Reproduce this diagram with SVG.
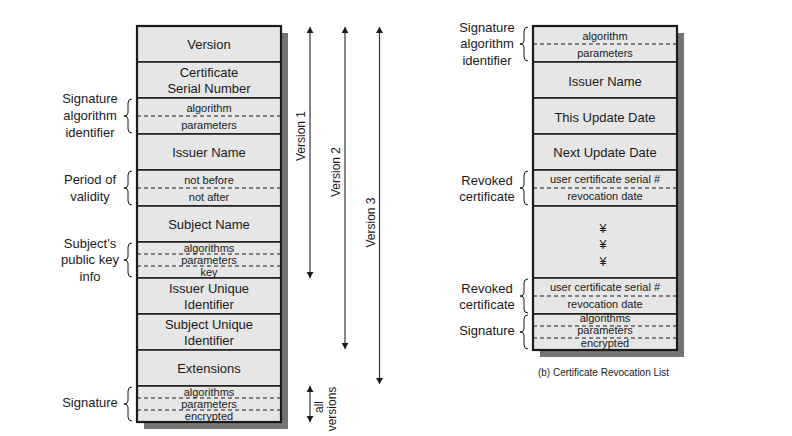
<svg xmlns="http://www.w3.org/2000/svg" width="792" height="436" viewBox="0 0 792 436">
<style>
.row{fill:#e6e6e6;stroke:#1a1a1a;stroke-width:1.5}
.frame{fill:none;stroke:#1a1a1a;stroke-width:2.2}
.shadow{fill:#747474}
.dash{stroke:#1a1a1a;stroke-width:1;stroke-dasharray:4 3}
text{font-family:"Liberation Sans",Arial,sans-serif;fill:#1a1a1a;text-anchor:middle}
.t{font-size:13px}
.s{font-size:11px}
.l{font-size:13px}
.v{font-size:12px}
.c{font-size:10px}
.y{font-size:12.5px}
.brace{fill:none;stroke:#1a1a1a;stroke-width:1}
.arr{stroke:#333;stroke-width:1.2;fill:none;marker-start:url(#ah);marker-end:url(#ah)}
</style>
<defs>
<marker id="ah" viewBox="0 0 6 7" refX="6" refY="3.5" markerWidth="6" markerHeight="7" markerUnits="userSpaceOnUse" orient="auto-start-reverse">
<path d="M0,0 L6,3.5 L0,7 Z" fill="#1a1a1a"/>
</marker>
</defs>
<rect width="792" height="436" fill="#ffffff"/>

<!-- Certificate (left) -->
<rect class="shadow" x="144" y="33" width="144" height="396"/>
<g id="cert-version"><rect class="row" x="137" y="26" width="144" height="36"/><text class="t" x="209" y="49">Version</text></g>
<g id="cert-serial"><rect class="row" x="137" y="62" width="144" height="36"/><text class="t" x="209" y="77">Certificate</text><text class="t" x="209" y="93">Serial Number</text></g>
<g id="cert-sigalg"><rect class="row" x="137" y="98" width="144" height="36"/><line class="dash" x1="137" y1="116" x2="281" y2="116"/><text class="s" x="209" y="111.5">algorithm</text><text class="s" x="209" y="128.5">parameters</text></g>
<g id="cert-issuer"><rect class="row" x="137" y="134" width="144" height="36"/><text class="t" x="209" y="156.5">Issuer Name</text></g>
<g id="cert-validity"><rect class="row" x="137" y="170" width="144" height="36"/><line class="dash" x1="137" y1="188" x2="281" y2="188"/><text class="s" x="209" y="183.5">not before</text><text class="s" x="209" y="201">not after</text></g>
<g id="cert-subject"><rect class="row" x="137" y="206" width="144" height="36"/><text class="t" x="209" y="229">Subject Name</text></g>
<g id="cert-pubkey"><rect class="row" x="137" y="242" width="144" height="36"/><line class="dash" x1="137" y1="254" x2="281" y2="254"/><line class="dash" x1="137" y1="266" x2="281" y2="266"/><text class="s" x="209" y="252">algorithms</text><text class="s" x="209" y="264">parameters</text><text class="s" x="209" y="276">key</text></g>
<g id="cert-issuer-uid"><rect class="row" x="137" y="278" width="144" height="36"/><text class="t" x="209" y="293">Issuer Unique</text><text class="t" x="209" y="309">Identifier</text></g>
<g id="cert-subject-uid"><rect class="row" x="137" y="314" width="144" height="36"/><text class="t" x="209" y="329">Subject Unique</text><text class="t" x="209" y="345">Identifier</text></g>
<g id="cert-extensions"><rect class="row" x="137" y="350" width="144" height="36"/><text class="t" x="209" y="373">Extensions</text></g>
<g id="cert-signature"><rect class="row" x="137" y="386" width="144" height="36"/><line class="dash" x1="137" y1="398" x2="281" y2="398"/><line class="dash" x1="137" y1="410" x2="281" y2="410"/><text class="s" x="209" y="396">algorithms</text><text class="s" x="209" y="408">parameters</text><text class="s" x="209" y="420">encrypted</text></g>
<rect class="frame" x="137" y="26" width="144" height="396"/>

<!-- Left labels -->
<g id="lbl-sigalg-l"><text class="l" x="90" y="103.3">Signature</text><text class="l" x="90" y="120">algorithm</text><text class="l" x="90" y="136.7">identifier</text>
<path class="brace" d="M132,99 Q128,99 128,103 L128,113 Q128,116 124,116 Q128,116 128,119 L128,129 Q128,133 132,133"/></g>
<g id="lbl-validity"><text class="l" x="90" y="184">Period of</text><text class="l" x="90" y="200.7">validity</text>
<path class="brace" d="M132,171 Q128,171 128,175 L128,185 Q128,188 124,188 Q128,188 128,191 L128,201 Q128,205 132,205"/></g>
<g id="lbl-pubkey"><text class="l" x="90" y="247.7">Subject's</text><text class="l" x="90" y="264.3">public key</text><text class="l" x="90" y="281">info</text>
<path class="brace" d="M132,243 Q128,243 128,247 L128,257 Q128,260 124,260 Q128,260 128,263 L128,273 Q128,277 132,277"/></g>
<g id="lbl-signature-l"><text class="l" x="90" y="407">Signature</text>
<path class="brace" d="M132,387 Q128,387 128,391 L128,401 Q128,404 124,404 Q128,404 128,407 L128,417 Q128,421 132,421"/></g>

<!-- Version arrows -->
<g id="connectors">
<line class="arr" x1="310" y1="27" x2="310" y2="278"/>
<line class="arr" x1="345" y1="27" x2="345" y2="349"/>
<line class="arr" x1="379.5" y1="27" x2="379.5" y2="384"/>
<line class="arr" x1="310" y1="386" x2="310" y2="422"/>
</g>
<g id="version-labels">
<text class="v" transform="translate(305,136) rotate(-90)">Version 1</text>
<text class="v" transform="translate(340,172) rotate(-90)">Version 2</text>
<text class="v" transform="translate(375,222.5) rotate(-90)">Version 3</text>
<text class="v" transform="translate(322.5,407) rotate(-90)">all</text>
<text class="v" transform="translate(335.5,409) rotate(-90)">versions</text>
</g>

<!-- CRL (right) -->
<rect class="shadow" x="540" y="33" width="144" height="324"/>
<g id="crl-sigalg"><rect class="row" x="533" y="26" width="144" height="36"/><line class="dash" x1="533" y1="44" x2="677" y2="44"/><text class="s" x="605" y="40">algorithm</text><text class="s" x="605" y="57.3">parameters</text></g>
<g id="crl-issuer"><rect class="row" x="533" y="62" width="144" height="36"/><text class="t" x="605" y="85.5">Issuer Name</text></g>
<g id="crl-this-update"><rect class="row" x="533" y="98" width="144" height="36"/><text class="t" x="605" y="121.5">This Update Date</text></g>
<g id="crl-next-update"><rect class="row" x="533" y="134" width="144" height="36"/><text class="t" x="605" y="157">Next Update Date</text></g>
<g id="crl-revoked-1"><rect class="row" x="533" y="170" width="144" height="36"/><line class="dash" x1="533" y1="188" x2="677" y2="188"/><text class="s" x="605" y="182.7">user certificate serial #</text><text class="s" x="605" y="200">revocation date</text></g>
<g id="crl-ellipsis"><rect class="row" x="533" y="206" width="144" height="72"/><text class="y" x="603" y="232.5">¥</text><text class="y" x="603" y="249">¥</text><text class="y" x="603" y="265.5">¥</text></g>
<g id="crl-revoked-2"><rect class="row" x="533" y="278" width="144" height="36"/><line class="dash" x1="533" y1="296" x2="677" y2="296"/><text class="s" x="605" y="290.7">user certificate serial #</text><text class="s" x="605" y="308.3">revocation date</text></g>
<g id="crl-signature"><rect class="row" x="533" y="314" width="144" height="36"/><line class="dash" x1="533" y1="326" x2="677" y2="326"/><line class="dash" x1="533" y1="338" x2="677" y2="338"/><text class="s" x="605" y="322.3">algorithms</text><text class="s" x="605" y="334.3">parameters</text><text class="s" x="605" y="346.7">encrypted</text></g>
<rect class="frame" x="533" y="26" width="144" height="324"/>

<!-- Right labels -->
<g id="lbl-sigalg-r"><text class="l" x="487" y="31.7">Signature</text><text class="l" x="487" y="48.3">algorithm</text><text class="l" x="487" y="65">identifier</text>
<path class="brace" d="M528,27 Q524,27 524,31 L524,41 Q524,44 520,44 Q524,44 524,47 L524,57 Q524,61 528,61"/></g>
<g id="lbl-revoked-1"><text class="l" x="487" y="184.7">Revoked</text><text class="l" x="487" y="201.3">certificate</text>
<path class="brace" d="M528,171 Q524,171 524,175 L524,185 Q524,188 520,188 Q524,188 524,191 L524,201 Q524,205 528,205"/></g>
<g id="lbl-revoked-2"><text class="l" x="487" y="292.7">Revoked</text><text class="l" x="487" y="309.3">certificate</text>
<path class="brace" d="M528,279 Q524,279 524,283 L524,293 Q524,296 520,296 Q524,296 524,299 L524,309 Q524,313 528,313"/></g>
<g id="lbl-signature-r"><text class="l" x="487" y="335">Signature</text>
<path class="brace" d="M528,315 Q524,315 524,319 L524,329 Q524,332 520,332 Q524,332 524,335 L524,345 Q524,349 528,349"/></g>

<text class="c" x="603.5" y="376">(b) Certificate Revocation List</text>
</svg>
